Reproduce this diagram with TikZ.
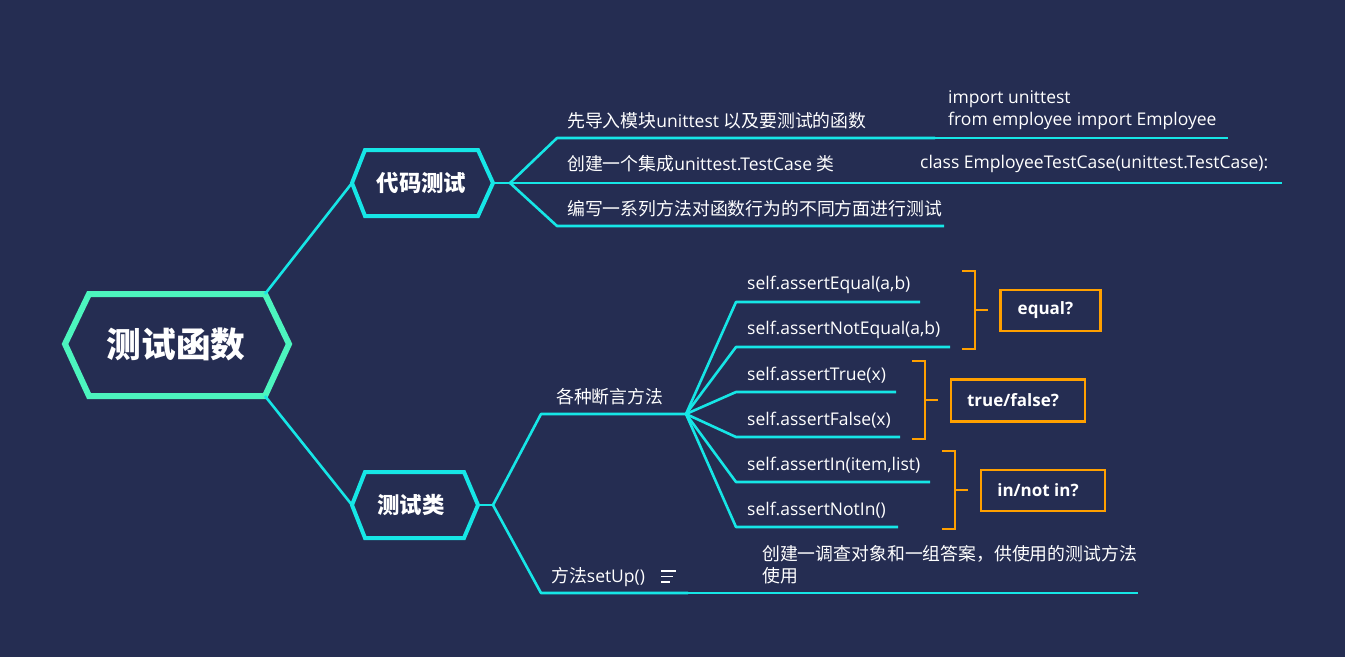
\documentclass[tikz,border=0pt]{standalone}
\usepackage{fontspec}
\setmainfont{Open Sans}
\newfontfamily\cjk[Scale=1.02]{Noto Sans CJK SC}
\newcommand\zh[1]{{\cjk #1}}
\definecolor{bg}{RGB}{37,45,82}
\definecolor{cyanl}{RGB}{22,230,230}
\definecolor{mint}{RGB}{76,245,190}
\definecolor{orng}{RGB}{255,160,0}
\tikzset{
  conn/.style={draw=cyanl, line width=2.6pt, line join=round},
  txt/.style={text=white, inner sep=0pt, anchor=west, font=\fontsize{17.5}{22}\selectfont},
  tag/.style={draw=orng, line width=2.4pt, text=white, inner sep=0pt, font=\bfseries\fontsize{17}{20}\selectfont},
  brk/.style={draw=orng, line width=2.4pt},
  hexa/.style={draw=cyanl, line width=4pt, line join=miter},
}
\begin{document}
\begin{tikzpicture}[x=1pt,y=-1pt]
\fill[bg] (0,0) rectangle (1345,657);
\useasboundingbox (0,0) rectangle (1345,657);

% root hexagon
\coordinate (rl) at (65,344); \coordinate (rtl) at (89,294); \coordinate (rtr) at (265,294);
\coordinate (rr) at (289,344); \coordinate (rbr) at (265,396); \coordinate (rbl) at (89,396);
\draw[draw=mint, line width=6pt, line join=miter] (rl) -- (rtl) -- (rtr) -- (rr) -- (rbr) -- (rbl) -- cycle;
\node[text=white, inner sep=0pt] (root) at (176,344) {\cjk\bfseries\fontsize{34}{40}\selectfont 测试函数};

% hexagon A
\coordinate (al) at (352,183); \coordinate (atl) at (365,150); \coordinate (atr) at (478,150);
\coordinate (ar) at (493,183); \coordinate (abr) at (478,216); \coordinate (abl) at (365,216);
\draw[hexa] (al) -- (atl) -- (atr) -- (ar) -- (abr) -- (abl) -- cycle;
\node[text=white, inner sep=0pt] (A) at (421.5,183) {\cjk\bfseries\fontsize{22}{24}\selectfont 代码测试};

% hexagon B
\coordinate (bl) at (352,505); \coordinate (btl) at (365,472); \coordinate (btr) at (464,472);
\coordinate (br) at (478,505); \coordinate (bbr) at (464,538); \coordinate (bbl) at (365,538);
\draw[hexa] (bl) -- (btl) -- (btr) -- (br) -- (bbr) -- (bbl) -- cycle;
\node[text=white, inner sep=0pt] (B) at (411,505) {\cjk\bfseries\fontsize{22}{24}\selectfont 测试类};

% root connectors
\draw[conn] (rtr) -- (al);
\draw[conn] (rbr) -- (bl);

% branch A
\coordinate (ha) at (510,183);
\coordinate (a1s) at (557,138); \coordinate (a1e) at (935,138); \coordinate (a1c) at (1228,138);
\coordinate (a2e) at (845,183); \coordinate (a2c) at (1282,183);
\coordinate (a3s) at (557,226); \coordinate (a3e) at (944,226);
\draw[conn] (ar) -- (ha);
\draw[conn] (ha) -- (a1s) -- (a1e);
\draw[conn] (a1e) -- (a1c);
\draw[conn] (ha) -- (a2e);
\draw[conn] (a2e) -- (a2c);
\draw[conn] (ha) -- (a3s) -- (a3e);
\node[txt] (t1) at (567,121) {\zh{先导入模块}unittest \zh{以及要测试的函数}};
\node[txt] (t2) at (567,164) {\zh{创建一个集成}unittest.TestCase \zh{类}};
\node[txt] (t3) at (567,209) {\zh{编写一系列方法对函数行为的不同方面进行测试}};
\node[txt, align=left] (t1c) at (948,110) {import unittest\\from employee import Employee};
\node[txt] (t2c) at (920,164) {class EmployeeTestCase(unittest.TestCase):};

% branch B
\coordinate (hb) at (493,505);
\coordinate (b1s) at (541,414); \coordinate (hub) at (686,414);
\coordinate (b2s) at (541,593); \coordinate (b2e) at (688,593); \coordinate (b2c) at (1138,593);
\draw[conn] (br) -- (hb);
\draw[conn] (hb) -- (b1s) -- (hub);
\draw[conn] (hb) -- (b2s) -- (b2e);
\draw[conn] (b2e) -- (b2c);
\node[txt] (tb1) at (556,397) {\zh{各种断言方法}};
\node[txt] (tb2) at (551,577) {\zh{方法}setUp()};
\node[txt, align=left] (tb2c) at (762,565) {\zh{创建一调查对象和一组答案，供使用的测试方法}\\\zh{使用}};
% note icon
\coordinate (n1) at (661,571); \coordinate (n2) at (676,571);
\coordinate (n3) at (661,576.5); \coordinate (n4) at (673,576.5);
\coordinate (n5) at (661,582); \coordinate (n6) at (670,582);
\draw[white, line width=1.3pt] (n1) -- (n2) (n3) -- (n4) (n5) -- (n6);

% assertions
\foreach \i/\y/\e/\t in {1/302/920/{self.assertEqual(a,b)},
                         2/347/950/{self.assertNotEqual(a,b)},
                         3/392/896/{self.assertTrue(x)},
                         4/437/900/{self.assertFalse(x)},
                         5/482/930/{self.assertIn(item,list)},
                         6/527/898/{self.assertNotIn()}}{
  \coordinate (s\i) at (736,\y);
  \coordinate (e\i) at (\e,\y);
  \draw[conn] (hub) -- (s\i) -- (e\i);
  \node[txt] (l\i) at (747,\y-17) {\t};
}

% brackets and tags
\coordinate (q1) at (962,271); \coordinate (q2) at (975,271); \coordinate (q3) at (975,349); \coordinate (q4) at (962,349);
\coordinate (qm) at (975,310); \coordinate (qt) at (988,310);
\draw[brk] (q1) -- (q2) -- (q3) -- (q4);
\draw[brk] (qm) -- (qt);
\node[tag, minimum width=100pt, minimum height=41pt] (eq) at (1050.5,310.5) {equal?\hspace*{10pt}};

\coordinate (w1) at (912,361); \coordinate (w2) at (925,361); \coordinate (w3) at (925,439); \coordinate (w4) at (912,439);
\coordinate (wm) at (925,400); \coordinate (wt) at (938,400);
\draw[brk] (w1) -- (w2) -- (w3) -- (w4);
\draw[brk] (wm) -- (wt);
\node[tag, minimum width=134pt, minimum height=42pt] (tf) at (1018,400.5) {true/false?\hspace*{10pt}};

\coordinate (v1) at (942,451); \coordinate (v2) at (955,451); \coordinate (v3) at (955,529); \coordinate (v4) at (942,529);
\coordinate (vm) at (955,490); \coordinate (vt) at (968,490);
\draw[brk] (v1) -- (v2) -- (v3) -- (v4);
\draw[brk] (vm) -- (vt);
\node[tag, minimum width=124pt, minimum height=41pt] (in) at (1043,490.5) {in/not in?\hspace*{10pt}};
\end{tikzpicture}
\end{document}
